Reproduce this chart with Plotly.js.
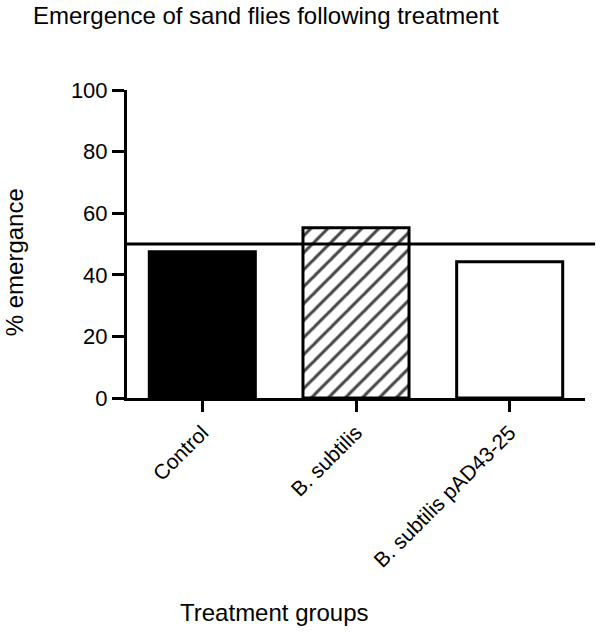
<!DOCTYPE html>
<html>
<head>
<meta charset="utf-8">
<script src="https://cdn.plot.ly/plotly-3.0.1.min.js"></script>
<style>
  body { margin: 0; background: #fff; }
  #plotContainer { width: 600px; height: 632px; }
</style>
</head>
<body>
<div id="plotContainer"></div>
<script>
"use strict";

const groups = ["Control", "B. subtilis", "B. subtilis pAD43-25"];
const emergence = [47.5, 55.3, 44.2];
const fills = ["#000000", "#ffffff", "#ffffff"];
const patterns = ["", "/", ""];
const refLevel = 50;
const yTicks = [0, 20, 40, 60, 80, 100];

const font = "Arial, 'Liberation Sans', sans-serif";

var traceBars = {
    type: "bar",
    x: groups,
    y: emergence,
    width: 0.69,
    marker: {
        color: fills,
        line: { color: "#000", width: 3 },
        pattern: {
            shape: patterns,
            fgcolor: "#000",
            fgopacity: 1,
            fillmode: "overlay",
            size: 12,
            solidity: 0.25,
        },
    },
    hoverinfo: "x+y",
};

var layout = {
    width: 600,
    height: 632,
    margin: { l: 127, r: 15, t: 90, b: 234 },
    paper_bgcolor: "#fff",
    plot_bgcolor: "#fff",
    showlegend: false,
    font: { family: font, color: "#000", size: 22 },
    title: {
        text: "Emergence of sand flies following treatment",
        font: { family: font, size: 24, color: "#000" },
        x: 0.055, xanchor: "left",
        y: 0.975, yanchor: "middle",
    },
    xaxis: {
        type: "category",
        range: [-0.49, 2.49],
        showline: true,
        linecolor: "#000",
        linewidth: 3,
        ticks: "outside",
        ticklen: 11,
        tickwidth: 3,
        tickcolor: "#000",
        tickangle: -45,
        tickfont: { family: font, size: 21, color: "#000" },
        showgrid: false,
        zeroline: false,
    },
    yaxis: {
        range: [0, 100],
        tickvals: yTicks,
        showline: true,
        linecolor: "#000",
        linewidth: 3,
        ticks: "outside",
        ticklen: 12,
        tickwidth: 3,
        tickcolor: "#000",
        tickfont: { family: font, size: 22, color: "#000" },
        showgrid: false,
        zeroline: false,
    },
    shapes: [{
        type: "line",
        xref: "paper", yref: "y",
        x0: 0, x1: 1.022,
        y0: refLevel, y1: refLevel,
        line: { color: "#000", width: 3 },
    }],
    annotations: [
        {
            text: "% emergance",
            xref: "paper", yref: "paper",
            x: -0.245, y: 0.44,
            xanchor: "center", yanchor: "middle",
            textangle: -90,
            showarrow: false,
            font: { family: font, size: 24, color: "#000" },
        },
        {
            text: "Treatment groups",
            xref: "paper", yref: "paper",
            x: 0.323, y: -0.698,
            xanchor: "center", yanchor: "middle",
            showarrow: false,
            font: { family: font, size: 24, color: "#000" },
        },
    ],
};

Plotly.newPlot("plotContainer", [traceBars], layout, { displayModeBar: false, staticPlot: true });
</script>
</body>
</html>
